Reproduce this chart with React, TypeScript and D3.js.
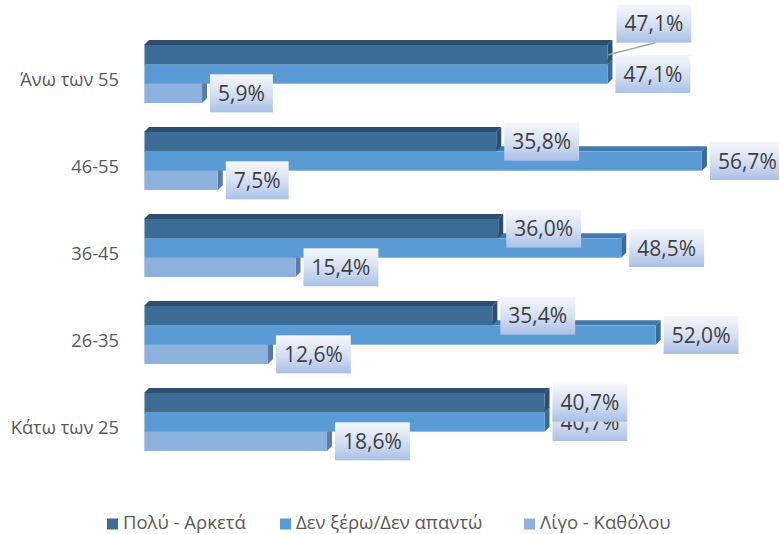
import React, { useEffect, useRef } from 'react';
import * as d3 from 'd3';

// categories top -> bottom
const categories = ['Άνω των 55', '46-55', '36-45', '26-35', 'Κάτω των 25'];
const seriesNames = ['Πολύ - Αρκετά', 'Δεν ξέρω/Δεν απαντώ', 'Λίγο - Καθόλου'];

const poluArketa = [47.1, 35.8, 36.0, 35.4, 40.7];
const denXero = [47.1, 56.7, 48.5, 52.0, 40.7];
const ligoKatholou = [5.9, 7.5, 15.4, 12.6, 18.6];

const seriesValues = [poluArketa, denXero, ligoKatholou];

// front / top / side colours per series
const colors = [
  { front: '#3d6c96', top: '#2c4e73', side: '#2b4e72' },
  { front: '#5b9bd5', top: '#4278ab', side: '#3b6a96' },
  { front: '#8db2dd', top: '#6f93bf', side: '#5a7ca2' },
];

const fmt = (v: number) => v.toFixed(1).replace('.', ',') + '%';

const App = () => {
  const ref = useRef<SVGSVGElement>(null);

  useEffect(() => {
    const svg = d3.select(ref.current);
    svg.selectAll('*').remove();

    const W = 779, H = 534;
    const depth = 5;
    const font = "'Open Sans', 'Noto Sans', sans-serif";

    const x = d3.scaleLinear().domain([0, 60]).range([144, 144 + 60 * 9.84]);
    const y = d3.scaleBand<string>()
      .domain(categories)
      .range([45, 451])
      .paddingInner(1 / 3)
      .paddingOuter(0);
    const ySub = d3.scaleBand<number>()
      .domain([0, 1, 2])
      .range([0, y.bandwidth()]);

    const defs = svg.append('defs');
    const grad = defs.append('linearGradient')
      .attr('id', 'lblGrad')
      .attr('x1', 0).attr('y1', 0).attr('x2', 0).attr('y2', 1);
    grad.append('stop').attr('offset', '0%').attr('stop-color', '#f5f7fc');
    grad.append('stop').attr('offset', '55%').attr('stop-color', '#d3def2');
    grad.append('stop').attr('offset', '100%').attr('stop-color', '#a9c0e6');

    const bars = svg.append('g');

    categories.forEach((cat, ci) => {
      // draw bottom series first so upper bars hide their top faces
      [2, 1, 0].forEach(si => {
        const v = seriesValues[si][ci];
        const x0 = x(0), x1 = x(v);
        const y0 = (y(cat) as number) + (ySub(si) as number);
        const y1 = y0 + ySub.bandwidth();
        const c = colors[si];
        const g = bars.append('g');
        g.append('polygon')
          .attr('points', [[x0, y0], [x0 + depth, y0 - depth], [x1 + depth, y0 - depth], [x1, y0]].join(' '))
          .attr('fill', c.top);
        g.append('polygon')
          .attr('points', [[x1, y0], [x1 + depth, y0 - depth], [x1 + depth, y1 - depth], [x1, y1]].join(' '))
          .attr('fill', c.side);
        g.append('rect')
          .attr('x', x0).attr('y', y0)
          .attr('width', x1 - x0).attr('height', y1 - y0)
          .attr('fill', c.front);
        g.append('line')
          .attr('x1', x0 + 0.5).attr('x2', x0 + 0.5)
          .attr('y1', y0).attr('y2', y1)
          .attr('stroke', '#c9dbef').attr('stroke-width', 1).attr('opacity', 0.6);
      });
    });

    // category labels
    svg.append('g').selectAll('text')
      .data(categories)
      .enter()
      .append('text')
      .attr('x', 119)
      .attr('y', d => (y(d) as number) + y.bandwidth() / 2 + 6)
      .attr('dy', '0.35em')
      .attr('text-anchor', 'end')
      .attr('font-family', font)
      .attr('font-size', 18.3)
      .attr('fill', '#595959')
      .text(d => d);

    // data labels: light, medium, dark so dark ends up on top
    const labels = svg.append('g');
    [2, 1, 0].forEach(si => {
      categories.forEach((cat, ci) => {
        const v = seriesValues[si][ci];
        const x1 = x(v);
        const yc = (y(cat) as number) + (ySub(si) as number) + ySub.bandwidth() / 2;
        // the top label of the first group is lifted above its bar with a leader line
        const lifted = si === 0 && ci === 0;
        const bx = x1 + 8 + (lifted ? 1 : 0);
        const by = lifted ? yc - 31 : yc;
        const g = labels.append('g');
        const rect = g.append('rect');
        const t = g.append('text')
          .attr('y', by)
          .attr('dy', '0.36em')
          .attr('font-family', font)
          .attr('font-size', 21)
          .attr('fill', '#404040')
          .text(fmt(v));
        const tw = (t.node() as SVGTextElement).getComputedTextLength();
        const bw = tw + 16;
        t.attr('x', bx + 8);
        rect.attr('x', bx).attr('y', by - 19)
          .attr('width', bw).attr('height', 38)
          .attr('fill', 'url(#lblGrad)');
        if (lifted) {
          g.insert('line', 'rect')
            .attr('x1', x1 + 1).attr('y1', yc)
            .attr('x2', bx + 39).attr('y2', by + 19)
            .attr('stroke', '#a6a6a6').attr('stroke-width', 1.5);
        }
      });
    });

    // legend
    const legendX = [107, 280, 524];
    const legend = svg.append('g');
    seriesNames.forEach((name, i) => {
      legend.append('rect')
        .attr('x', legendX[i]).attr('y', 518.5)
        .attr('width', 11).attr('height', 11)
        .attr('fill', colors[i].front);
      legend.append('text')
        .attr('x', legendX[i] + 16).attr('y', 523)
        .attr('dy', '0.35em')
        .attr('font-family', font)
        .attr('font-size', 18.5)
        .attr('fill', '#595959')
        .text(name);
    });

    svg.attr('width', W).attr('height', H);
  }, []);

  return (
    <svg ref={ref} width={779} height={534} style={{ position: 'absolute', left: 0, top: 0, background: '#fff' }}></svg>
  );
};

export default App;
